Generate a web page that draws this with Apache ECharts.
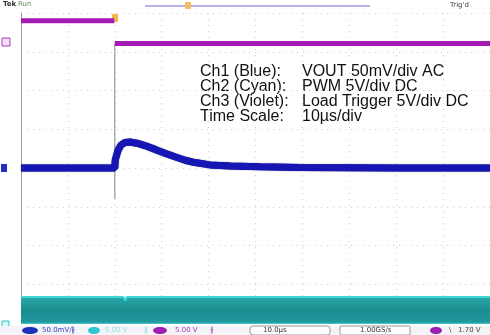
<!DOCTYPE html>
<html>
<head>
<meta charset="utf-8">
<script src="https://cdn.jsdelivr.net/npm/echarts@6/dist/echarts.min.js"></script>
<style>
  html, body { margin: 0; padding: 0; background: #fff; }
  #scope { width: 490px; height: 335px; }
</style>
</head>
<body>
<div id="scope"></div>
<script>
// time in µs (10 µs/div, trigger at 0), level in divisions
const ch1Time = [-20, -10, 0, 0.1, 0.7, 1.3, 2.2, 3.2, 4.7, 6.4, 8.6, 10.7, 12.8, 15.0, 17.1, 20.3, 24.6, 31, 39.5, 60, 80];
const ch1Level = [0, 0, 0, 0.21, 0.46, 0.59, 0.66, 0.67, 0.64, 0.58, 0.48, 0.38, 0.29, 0.2, 0.14, 0.08, 0.05, 0.03, 0.01, 0, 0];

const ch2Time = [-20, 1.8, 2.2, 2.6, 80];
const ch2High = [-3.33, -3.33, -3.42, -3.33, -3.33];
const ch2Low = -4.05;

const ch3Time = [-20, -0.1, null, 0, 80];
const ch3Level = [3.8, 3.8, null, 3.21, 3.21];

const trigTime = [0, 0];
const trigLevel = [3.21, -0.8];

const notes = [
    ["Ch1 (Blue):", "VOUT 50mV/div AC"],
    ["Ch2 (Cyan):", "PWM 5V/div DC"],
    ["Ch3 (Violet):", "Load Trigger 5V/div DC"],
    ["Time Scale:", "10\u00b5s/div"]
];

const pairs = (xs, ys) => xs.map((x, i) => (x === null ? [null, null] : [x, ys[i]]));

const chart = echarts.init(document.getElementById("scope"));

const noteFont = "16px 'Liberation Sans', Arial, sans-serif";
const noteText = [];
notes.forEach((n, i) => {
    noteText.push({ type: "text", x: 200, y: 72 + i * 15,
        style: { text: n[0], font: noteFont, fill: "#111", verticalAlign: "middle" } });
    noteText.push({ type: "text", x: 302, y: 72 + i * 15,
        style: { text: n[1], font: noteFont, fill: "#111", verticalAlign: "middle" } });
});

const small = "7px 'DejaVu Sans', sans-serif";

chart.setOption({
    animation: false,
    backgroundColor: "#fff",
    grid: { left: 21, right: 0, top: 13, bottom: 12 },
    xAxis: {
        type: "value", min: -20, max: 80, interval: 10,
        axisLabel: { show: false },
        axisTick: { show: false },
        axisLine: { show: false },
        splitLine: { show: true, lineStyle: { color: "#cfcfcf", type: [1, 5], width: 1 } }
    },
    yAxis: {
        type: "value", min: -4, max: 4, interval: 1,
        axisLabel: { show: false },
        axisTick: { show: false },
        axisLine: { show: true, onZero: false, lineStyle: { color: "#9a9a9a", width: 1 } },
        splitLine: { show: true, lineStyle: { color: "#cfcfcf", type: [1, 5], width: 1 } }
    },
    series: [
        {
            name: "trig", type: "line", symbol: "none",
            data: pairs(trigTime, trigLevel),
            lineStyle: { color: "#8a8a8a", width: 1 }, z: 1
        },
        {
            name: "Ch2", type: "line", symbol: "none",
            data: pairs(ch2Time, ch2High),
            lineStyle: { color: "#3fd6d6", width: 2 },
            areaStyle: {
                origin: ch2Low, opacity: 1,
                color: new echarts.graphic.LinearGradient(0, 0, 0, 1, [
                    { offset: 0, color: "#2aa8a8" },
                    { offset: 0.5, color: "#1a8c90" },
                    { offset: 0.9, color: "#1f9aa0" },
                    { offset: 1, color: "#6fe6e6" }
                ])
            },
            z: 2
        },
        {
            name: "Ch3", type: "line", symbol: "none", connectNulls: false,
            data: pairs(ch3Time, ch3Level),
            lineStyle: { color: "#a31bb3", width: 5 }, z: 3
        },
        {
            name: "Ch1", type: "line", symbol: "none",
            data: pairs(ch1Time, ch1Level),
            lineStyle: { color: "#1616b4", width: 7, shadowColor: "#050560", shadowBlur: 1 }, z: 4
        }
    ],
    graphic: [
        // header
        { type: "text", left: 3, top: 1, style: { text: "Tek", font: "bold 7px 'DejaVu Sans'", fill: "#333" } },
        { type: "text", left: 18, top: 1, style: { text: "Run", font: small, fill: "#6a8a60" } },
        { type: "rect", shape: { x: 145, y: 5, width: 225, height: 2 }, style: { fill: "#b9b0e6" } },
        { type: "rect", shape: { x: 185, y: 2, width: 6, height: 7, r: 1 }, style: { fill: "#f2c060" } },
        { type: "text", left: 450, top: 2, style: { text: "Trig'd", font: small, fill: "#444" } },
        { type: "rect", shape: { x: 112, y: 14, width: 6, height: 8, r: 1 }, style: { fill: "#f2b84a" } },
        // channel markers
        { type: "rect", shape: { x: 2, y: 38, width: 8, height: 8 }, style: { fill: "#f4e0f4", stroke: "#b040c0" } },
        { type: "rect", shape: { x: 1, y: 164, width: 6, height: 8 }, style: { fill: "#2030c0" } },
        { type: "rect", shape: { x: 2, y: 321, width: 7, height: 8 }, style: { fill: "#d8f8f8", stroke: "#30c0c0" } },
        // status bar
        { type: "rect", shape: { x: 0, y: 326, width: 490, height: 9 }, style: { fill: "#f4f4f8" } },
        { type: "ellipse", shape: { cx: 30, cy: 330.5, rx: 8, ry: 3.5 }, style: { fill: "#2030b8" } },
        { type: "text", left: 42, top: 327, style: { text: "50.0mV/\u2226", font: small, fill: "#3040c0" } },
        { type: "ellipse", shape: { cx: 94, cy: 330.5, rx: 6, ry: 3.5 }, style: { fill: "#30c8d0" } },
        { type: "text", left: 105, top: 327, style: { text: "5.00 V", font: small, fill: "#90dce0" } },
        { type: "text", left: 144, top: 327, style: { text: "\u2226", font: small, fill: "#90dce0" } },
        { type: "ellipse", shape: { cx: 160, cy: 330.5, rx: 7, ry: 3.5 }, style: { fill: "#a020b0" } },
        { type: "text", left: 175, top: 327, style: { text: "5.00 V", font: small, fill: "#a040b0" } },
        { type: "text", left: 210, top: 327, style: { text: "\u2226", font: small, fill: "#a040b0" } },
        { type: "rect", shape: { x: 250, y: 326, width: 80, height: 9, r: 3 }, style: { fill: "#fff", stroke: "#999" } },
        { type: "text", left: 263, top: 327, style: { text: "10.0\u00b5s", font: small, fill: "#333" } },
        { type: "rect", shape: { x: 340, y: 326, width: 70, height: 9, r: 1 }, style: { fill: "#fff", stroke: "#999" } },
        { type: "text", left: 360, top: 327, style: { text: "1.00GS/s", font: small, fill: "#333" } },
        { type: "ellipse", shape: { cx: 436, cy: 330.5, rx: 6, ry: 3.5 }, style: { fill: "#9a20b0" } },
        { type: "text", left: 449, top: 327, style: { text: "\\   1.70 V", font: small, fill: "#444" } }
    ].concat(noteText)
});
</script>
</body>
</html>
